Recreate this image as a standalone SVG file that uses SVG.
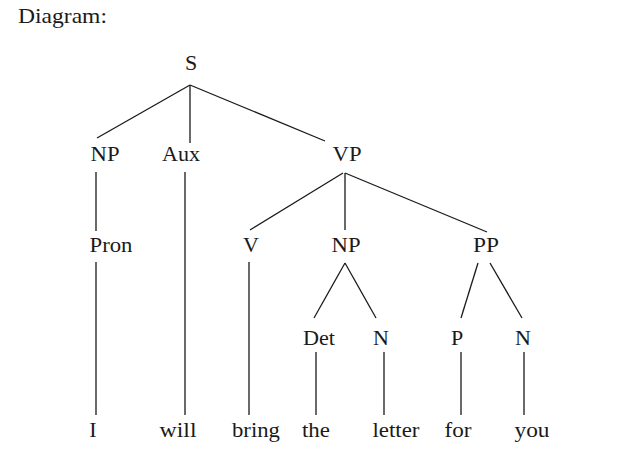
<svg xmlns="http://www.w3.org/2000/svg" width="630" height="453" viewBox="0 0 630 453">
<style>
text{font-family:"Liberation Serif","Times New Roman",serif;font-size:22px;fill:#1a1a1a;text-anchor:middle}
.e line{stroke:#1a1a1a;stroke-width:1.3}
</style>
<rect width="630" height="453" fill="#fff"/>
<text x="18" y="23" style="text-anchor:start" textLength="89" lengthAdjust="spacingAndGlyphs">Diagram:</text>
<g class="e" id="connectors">
<line x1="190" y1="85" x2="97" y2="138"/>
<line x1="190" y1="85" x2="190" y2="143"/>
<line x1="190" y1="85" x2="325" y2="141"/>
<line x1="96" y1="172" x2="96" y2="231"/>
<line x1="96" y1="262" x2="96" y2="415"/>
<line x1="185" y1="172" x2="185" y2="415"/>
<line x1="343" y1="173" x2="250" y2="230"/>
<line x1="345" y1="173" x2="345" y2="230"/>
<line x1="345" y1="173" x2="487" y2="232"/>
<line x1="249" y1="262" x2="249" y2="415"/>
<line x1="345" y1="263" x2="314" y2="318"/>
<line x1="345" y1="263" x2="376" y2="318"/>
<line x1="478" y1="263" x2="461" y2="318"/>
<line x1="490" y1="263" x2="522" y2="318"/>
<line x1="316" y1="352" x2="316" y2="415"/>
<line x1="384" y1="352" x2="384" y2="415"/>
<line x1="461" y1="352" x2="461" y2="415"/>
<line x1="524" y1="352" x2="524" y2="415"/>
</g>
<g id="S"><text x="191" y="70">S</text></g>
<g id="NP1"><text x="105" y="161" textLength="29" lengthAdjust="spacingAndGlyphs">NP</text></g>
<g id="Aux"><text x="181" y="161" textLength="38" lengthAdjust="spacingAndGlyphs">Aux</text></g>
<g id="VP"><text x="347" y="161" textLength="29" lengthAdjust="spacingAndGlyphs">VP</text></g>
<g id="Pron"><text x="111" y="252" textLength="43" lengthAdjust="spacingAndGlyphs">Pron</text></g>
<g id="V"><text x="251" y="252">V</text></g>
<g id="NP2"><text x="346" y="252" textLength="29" lengthAdjust="spacingAndGlyphs">NP</text></g>
<g id="PP"><text x="486" y="252" textLength="26" lengthAdjust="spacingAndGlyphs">PP</text></g>
<g id="Det"><text x="319" y="345" textLength="32" lengthAdjust="spacingAndGlyphs">Det</text></g>
<g id="N1"><text x="381" y="345">N</text></g>
<g id="P"><text x="457" y="345">P</text></g>
<g id="N2"><text x="523" y="345">N</text></g>
<g id="w-I"><text x="93" y="437">I</text></g>
<g id="w-will"><text x="178" y="437" textLength="37" lengthAdjust="spacingAndGlyphs">will</text></g>
<g id="w-bring"><text x="256" y="437" textLength="48" lengthAdjust="spacingAndGlyphs">bring</text></g>
<g id="w-the"><text x="316" y="437" textLength="28" lengthAdjust="spacingAndGlyphs">the</text></g>
<g id="w-letter"><text x="396" y="437" textLength="47" lengthAdjust="spacingAndGlyphs">letter</text></g>
<g id="w-for"><text x="458" y="437" textLength="27" lengthAdjust="spacingAndGlyphs">for</text></g>
<g id="w-you"><text x="532" y="437" textLength="35" lengthAdjust="spacingAndGlyphs">you</text></g>
</svg>
